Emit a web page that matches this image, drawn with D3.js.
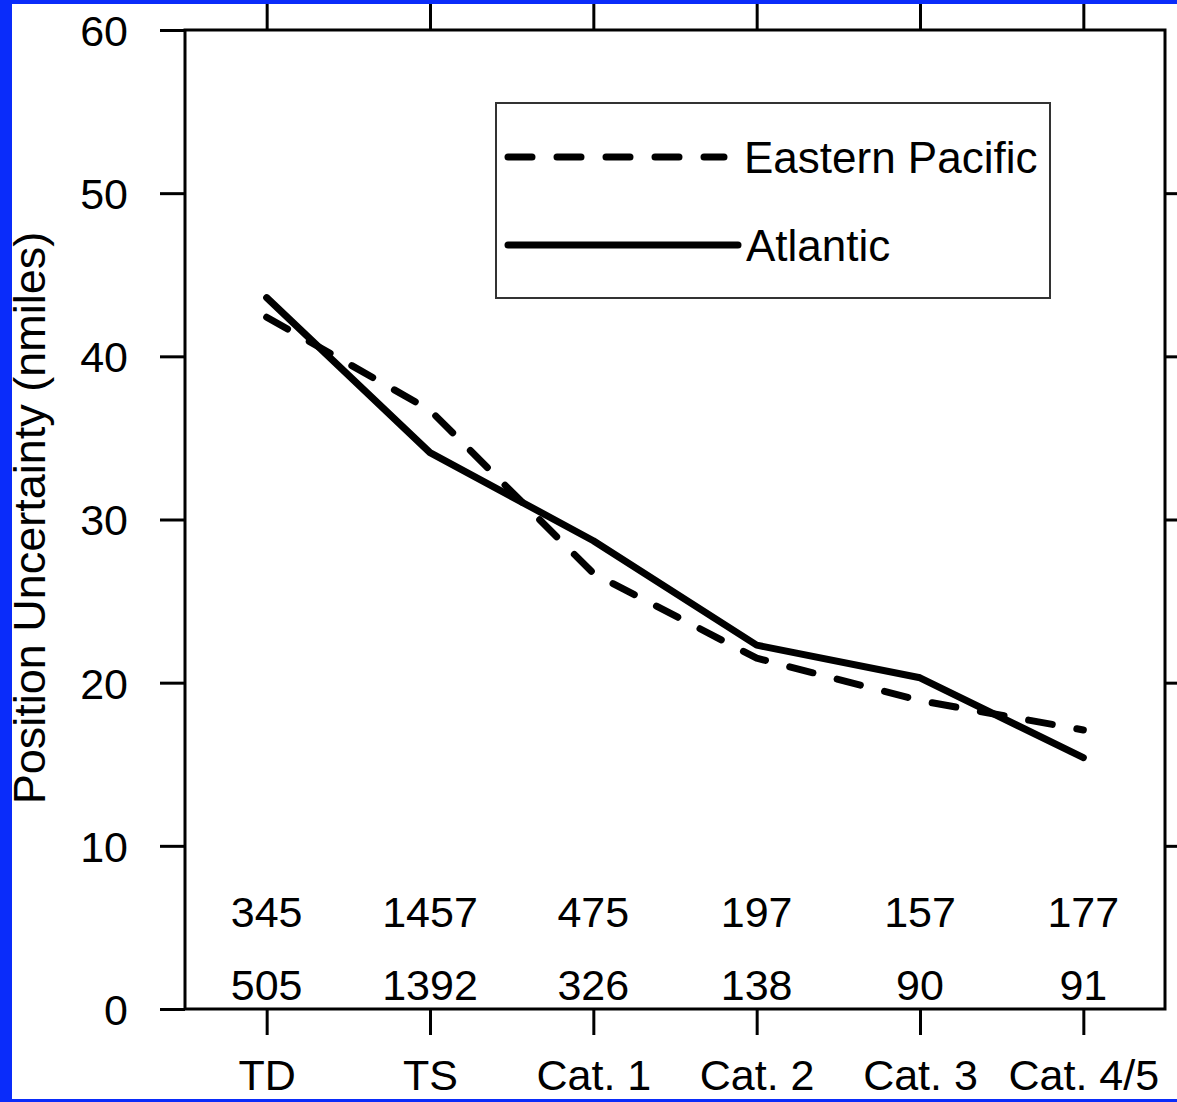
<!DOCTYPE html>
<html>
<head>
<meta charset="utf-8">
<script src="https://cdn.jsdelivr.net/npm/d3@7"></script>
<style>
  html, body { margin: 0; padding: 0; background: #fff; }
  svg { display: block; }
  text { font-family: "Liberation Sans", Arial, Helvetica, sans-serif; fill: #000; }
  .axis path, .axis line { stroke: #000; stroke-width: 3; }
</style>
</head>
<body>
<div id="chart"></div>
<script>
const width = 1177, height = 1102;
const margin = { top: 30, right: 12, bottom: 93, left: 185 };

// data
const categories = ['TD', 'TS', 'Cat. 1', 'Cat. 2', 'Cat. 3', 'Cat. 4/5'];
const eastPacific = [42.4, 36.7, 26.7, 21.5, 18.9, 17.1];
const atlantic = [43.6, 34.1, 28.7, 22.3, 20.3, 15.4];
const countsTop = [345, 1457, 475, 197, 157, 177];
const countsBottom = [505, 1392, 326, 138, 90, 91];
const yTicks = [0, 10, 20, 30, 40, 50, 60];
const seriesNames = ['Eastern Pacific', 'Atlantic'];

const plotRight = width - margin.right;   // 1165
const plotBottom = height - margin.bottom; // 1009

const xScale = d3.scalePoint().domain(categories).range([margin.left, plotRight]).padding(0.5);
const yScale = d3.scaleLinear().domain([0, 60]).range([plotBottom, margin.top]);

const fontSize = 43;
const dash = '24,25';

const svg = d3.select('#chart').append('svg')
    .attr('width', width)
    .attr('height', height);

svg.append('rect')
    .attr('width', width).attr('height', height)
    .attr('fill', '#fff');

// frame
svg.append('rect')
    .attr('x', margin.left).attr('y', margin.top)
    .attr('width', plotRight - margin.left)
    .attr('height', plotBottom - margin.top)
    .attr('fill', 'none')
    .attr('stroke', '#000')
    .attr('stroke-width', 3);

// left axis with labels
const yLeft = svg.append('g')
    .attr('class', 'axis')
    .attr('transform', `translate(${margin.left},0)`)
    .call(d3.axisLeft(yScale).tickValues(yTicks).tickSize(25).tickSizeOuter(0).tickPadding(32));
yLeft.select('.domain').remove();
yLeft.selectAll('text').style('font-size', fontSize + 'px').attr('dy', '0.36em');

// right axis, ticks only
const yRight = svg.append('g')
    .attr('class', 'axis')
    .attr('transform', `translate(${plotRight},0)`)
    .call(d3.axisRight(yScale).tickValues(yTicks.slice(1, -1)).tickSize(25).tickFormat(''));
yRight.select('.domain').remove();

// top axis, ticks only
const xTop = svg.append('g')
    .attr('class', 'axis')
    .attr('transform', `translate(0,${margin.top})`)
    .call(d3.axisTop(xScale).tickSize(30).tickFormat(''));
xTop.select('.domain').remove();

// bottom axis with category labels
const xBottom = svg.append('g')
    .attr('class', 'axis')
    .attr('transform', `translate(0,${plotBottom})`)
    .call(d3.axisBottom(xScale).tickSize(26));
xBottom.select('.domain').remove();
xBottom.selectAll('text')
    .style('font-size', fontSize + 'px')
    .attr('y', 81)
    .attr('dy', 0);

// counts
svg.append('g').selectAll('text')
    .data(countsTop)
    .enter().append('text')
    .attr('x', (d, i) => xScale(categories[i]))
    .attr('y', 927)
    .attr('text-anchor', 'middle')
    .style('font-size', fontSize + 'px')
    .text(d => d);

svg.append('g').selectAll('text')
    .data(countsBottom)
    .enter().append('text')
    .attr('x', (d, i) => xScale(categories[i]))
    .attr('y', 1000)
    .attr('text-anchor', 'middle')
    .style('font-size', fontSize + 'px')
    .text(d => d);

// lines
const line = d3.line()
    .x((d, i) => xScale(categories[i]))
    .y(d => yScale(d));

svg.append('path')
    .datum(eastPacific)
    .attr('d', line)
    .attr('fill', 'none')
    .attr('stroke', '#000')
    .attr('stroke-width', 7)
    .attr('stroke-linecap', 'round')
    .attr('stroke-linejoin', 'round')
    .attr('stroke-dasharray', dash);

svg.append('path')
    .datum(atlantic)
    .attr('d', line)
    .attr('fill', 'none')
    .attr('stroke', '#000')
    .attr('stroke-width', 7)
    .attr('stroke-linecap', 'round')
    .attr('stroke-linejoin', 'round');

// legend
const legend = svg.append('g');
legend.append('rect')
    .attr('x', 496).attr('y', 103)
    .attr('width', 554).attr('height', 195)
    .attr('fill', '#fff')
    .attr('stroke', '#333')
    .attr('stroke-width', 2);

legend.append('line')
    .attr('x1', 508).attr('x2', 724)
    .attr('y1', 157).attr('y2', 157)
    .attr('stroke', '#000').attr('stroke-width', 7)
    .attr('stroke-linecap', 'round')
    .attr('stroke-dasharray', dash);
legend.append('text')
    .attr('x', 744).attr('y', 173)
    .style('font-size', (fontSize + 1) + 'px')
    .text(seriesNames[0]);

legend.append('line')
    .attr('x1', 508).attr('x2', 738)
    .attr('y1', 245).attr('y2', 245)
    .attr('stroke', '#000').attr('stroke-width', 7)
    .attr('stroke-linecap', 'round');
legend.append('text')
    .attr('x', 746).attr('y', 261)
    .style('font-size', (fontSize + 1) + 'px')
    .text(seriesNames[1]);

// y axis title
svg.append('text')
    .attr('transform', 'translate(45,518) rotate(-90)')
    .attr('text-anchor', 'middle')
    .style('font-size', '45px')
    .text('Position Uncertainty (nmiles)');

// blue frame of the slide
svg.append('rect').attr('x', 0).attr('y', 0).attr('width', 12).attr('height', height).attr('fill', '#0a2cfa');
svg.append('rect').attr('x', 0).attr('y', 0).attr('width', width).attr('height', 4).attr('fill', '#0a2cfa');
svg.append('rect').attr('x', 0).attr('y', height - 3).attr('width', width).attr('height', 3).attr('fill', '#0a2cfa');
</script>
</body>
</html>
